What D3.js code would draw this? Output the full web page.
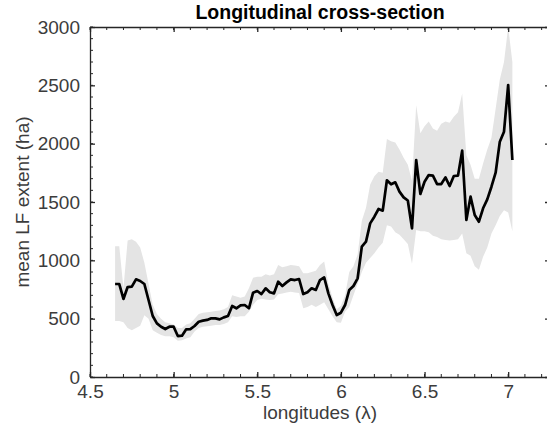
<!DOCTYPE html>
<html lang="en"><head><meta charset="utf-8">
<script src="https://d3js.org/d3.v7.min.js"></script>
<style>
  body { margin: 0; background: #fff; }
  text { font-family: "Liberation Sans", Arial, Helvetica, sans-serif; }
</style>
</head><body>
<div id="chart"></div>
<script>
// longitudes of the cross-section samples
const lon = [4.650, 4.675, 4.700, 4.725, 4.750, 4.775, 4.800, 4.825, 4.850, 4.875,
  4.900, 4.925, 4.950, 4.975, 5.000, 5.025, 5.050, 5.075, 5.100, 5.125,
  5.150, 5.175, 5.200, 5.225, 5.250, 5.275, 5.300, 5.325, 5.350, 5.375,
  5.400, 5.425, 5.450, 5.475, 5.500, 5.525, 5.550, 5.575, 5.600, 5.625,
  5.650, 5.675, 5.700, 5.725, 5.750, 5.775, 5.800, 5.825, 5.850, 5.875,
  5.900, 5.925, 5.950, 5.975, 6.000, 6.025, 6.050, 6.075, 6.100, 6.125,
  6.150, 6.175, 6.200, 6.225, 6.250, 6.275, 6.300, 6.325, 6.350, 6.375,
  6.400, 6.425, 6.450, 6.475, 6.500, 6.525, 6.550, 6.575, 6.600, 6.625,
  6.650, 6.675, 6.700, 6.725, 6.750, 6.775, 6.800, 6.825, 6.850, 6.875,
  6.900, 6.925, 6.950, 6.975, 7.000, 7.025];

// mean LF extent (ha)
const meanExtent = [797, 797, 669, 771, 774, 837, 823, 797, 660, 523,
  460, 431, 411, 431, 431, 351, 354, 409, 411, 437,
  474, 483, 489, 503, 503, 494, 511, 523, 609, 589,
  614, 617, 589, 723, 737, 711, 760, 726, 717, 817,
  780, 811, 837, 831, 840, 711, 727, 760, 746, 831,
  854, 717, 617, 531, 551, 617, 746, 780, 846, 1117,
  1160, 1317, 1374, 1440, 1426, 1686, 1652, 1669, 1589, 1540,
  1513, 1274, 1860, 1569, 1674, 1731, 1726, 1654, 1654, 1711,
  1637, 1723, 1726, 1940, 1346, 1546, 1389, 1331, 1446, 1523,
  1631, 1751, 2017, 2103, 2503, 1860];

// upper edge of the shaded band
const upperExtent = [1120, 1120, 760, 1170, 1180, 1160, 1110, 980, 800, 620,
  540, 500, 470, 460, 450, 420, 420, 450, 460, 500,
  540, 550, 555, 560, 565, 570, 580, 600, 700, 690,
  680, 690, 760, 850, 860, 860, 880, 870, 880, 960,
  940, 950, 960, 955, 950, 890, 890, 900, 910, 960,
  990, 800, 680, 580, 610, 700, 900, 950, 1050, 1340,
  1450, 1650, 1720, 1760, 1750, 2040, 2020, 2010, 1950, 1880,
  1820, 1680, 2330, 2090, 2150, 2190, 2130, 2110, 2170, 2190,
  2180, 2230, 2270, 2430, 1900, 1820, 1700, 1700, 1830, 1950,
  2050, 2300, 2550, 2700, 3000, 2700];

// lower edge of the shaded band
const lowerExtent = [480, 480, 470, 420, 400, 420, 440, 530, 500, 400,
  380, 360, 350, 350, 340, 310, 315, 330, 340, 390,
  420, 430, 435, 440, 445, 445, 455, 470, 520, 515,
  520, 520, 560, 620, 660, 670, 665, 660, 665, 710,
  715, 725, 730, 725, 720, 590, 600, 620, 600, 620,
  640, 580, 520, 470, 465, 560, 600, 700, 800, 900,
  980, 1020, 1060, 1110, 1150, 1300, 1290, 1240, 1220, 1180,
  1140, 970, 1260, 1250, 1250, 1240, 1210, 1200, 1180, 1175,
  1170, 1175, 1180, 1230, 1060, 1040, 950, 920, 1030, 1110,
  1230, 1300, 1380, 1430, 1410, 1250];

const xTicks = [4.5, 5, 5.5, 6, 6.5, 7];
const xTickLabels = ["4.5", "5", "5.5", "6", "6.5", "7"];
const yTicks = [0, 500, 1000, 1500, 2000, 2500, 3000];
const yTickLabels = ["0", "500", "1000", "1500", "2000", "2500", "3000"];

const width = 547, height = 436;
const margin = { top: 27, right: -3, bottom: 59, left: 90 };
const axisColor = "#262626";
const textColor = "#3c3c3c";

const svg = d3.select("#chart").append("svg")
  .attr("width", width)
  .attr("height", height);

svg.append("rect").attr("width", width).attr("height", height).attr("fill", "#fff");

const x = d3.scaleLinear().domain([4.5, 7.25]).range([margin.left, width - margin.right]);
const y = d3.scaleLinear().domain([0, 3000]).range([height - margin.bottom, margin.top]);

svg.append("clipPath").attr("id", "plotclip")
  .append("rect")
  .attr("x", margin.left).attr("y", margin.top)
  .attr("width", x.range()[1] - margin.left)
  .attr("height", y.range()[0] - margin.top);

const rows = lon.map((d, i) => ({ lon: d, mean: meanExtent[i], hi: upperExtent[i], lo: lowerExtent[i] }));

const plot = svg.append("g").attr("clip-path", "url(#plotclip)");

plot.append("path")
  .datum(rows)
  .attr("fill", "#e4e4e4")
  .attr("d", d3.area().x(d => x(d.lon)).y0(d => y(d.lo)).y1(d => y(d.hi)));

plot.append("path")
  .datum(rows)
  .attr("fill", "none")
  .attr("stroke", "#000")
  .attr("stroke-width", 2.7)
  .attr("stroke-linejoin", "round")
  .attr("d", d3.line().x(d => x(d.lon)).y(d => y(d.mean)));

// minor ticks (inward)
const xMinor = d3.range(4.5, 7.26, 0.1);
const yMinor = d3.range(0, 3001, 100);
const ticksG = svg.append("g").attr("stroke", axisColor).attr("stroke-width", 1);
const y0 = y(0), y1 = y(3000), x0 = x(4.5), x1 = x(7.25);
xMinor.forEach(v => {
  ticksG.append("line").attr("x1", x(v)).attr("x2", x(v)).attr("y1", y0).attr("y2", y0 - 3);
  ticksG.append("line").attr("x1", x(v)).attr("x2", x(v)).attr("y1", y1).attr("y2", y1 + 3);
});
yMinor.forEach(v => {
  ticksG.append("line").attr("y1", y(v)).attr("y2", y(v)).attr("x1", x0).attr("x2", x0 + 3);
  ticksG.append("line").attr("y1", y(v)).attr("y2", y(v)).attr("x1", x1).attr("x2", x1 - 3);
});

// major axes
const fmtX = d => xTickLabels[xTicks.indexOf(d)];
const fmtY = d => yTickLabels[yTicks.indexOf(d)];

const gx = svg.append("g")
  .attr("transform", `translate(0,${y0})`)
  .call(d3.axisBottom(x).tickValues(xTicks).tickFormat(fmtX).tickSizeInner(-5).tickSizeOuter(0).tickPadding(8));
const gy = svg.append("g")
  .attr("transform", `translate(${x0},0)`)
  .call(d3.axisLeft(y).tickValues(yTicks).tickFormat(fmtY).tickSizeInner(-5).tickSizeOuter(0).tickPadding(10));
const gt = svg.append("g")
  .attr("transform", `translate(0,${y1})`)
  .call(d3.axisTop(x).tickValues(xTicks).tickFormat("").tickSizeInner(-5).tickSizeOuter(0));
const gr = svg.append("g")
  .attr("transform", `translate(${x1},0)`)
  .call(d3.axisRight(y).tickValues(yTicks).tickFormat("").tickSizeInner(-5).tickSizeOuter(0));

[gx, gy, gt, gr].forEach(g => {
  g.select(".domain").attr("stroke", axisColor).attr("stroke-width", 1.3);
  g.selectAll(".tick line").attr("stroke", axisColor).attr("stroke-width", 1.3);
  g.selectAll(".tick text").attr("fill", textColor).style("font-size", "19px");
});

// labels
svg.append("text")
  .attr("x", (x0 + x1) / 2).attr("y", 19)
  .attr("text-anchor", "middle")
  .style("font-size", "19.5px").style("font-weight", "bold")
  .attr("fill", "#000")
  .text("Longitudinal cross-section");

svg.append("text")
  .attr("x", (x0 + x1) / 2).attr("y", 419)
  .attr("text-anchor", "middle")
  .style("font-size", "19px")
  .attr("fill", textColor)
  .text("longitudes (λ)");

svg.append("text")
  .attr("transform", `translate(29,${(y0 + y1) / 2}) rotate(-90)`)
  .attr("text-anchor", "middle")
  .style("font-size", "19px")
  .attr("fill", textColor)
  .text("mean LF extent (ha)");
</script>
</body></html>
